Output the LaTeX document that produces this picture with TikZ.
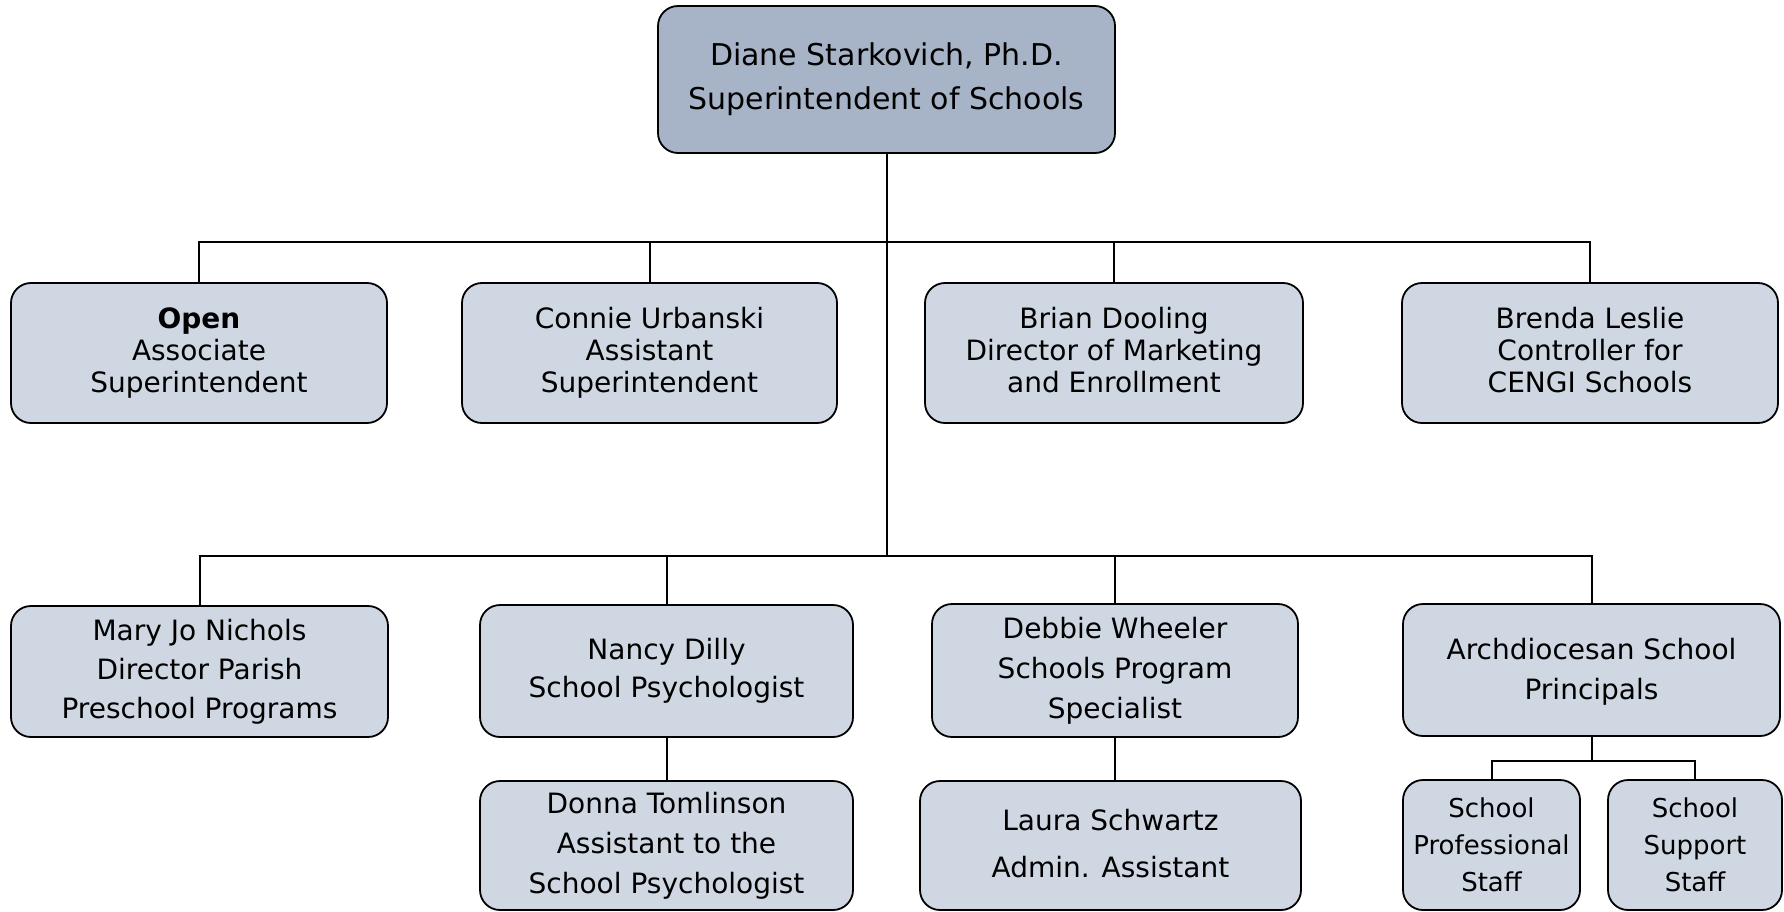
\documentclass[tikz,border=0pt]{standalone}
\usepackage{fontspec}
\setmainfont{DejaVu Sans}
\definecolor{topfill}{HTML}{A7B4C8}
\definecolor{boxfill}{HTML}{CFD8E2}
\tikzset{
  orgbox/.style={draw=black, line width=1.8pt, fill=boxfill, rounded corners=20pt,
    align=center, inner sep=0pt, text=black},
  link/.style={draw=black, line width=2pt},
}
\begin{document}
\begin{tikzpicture}[x=1pt,y=-1pt]
\useasboundingbox (0,0) rectangle (1784,912);
% top
\node[orgbox, fill=topfill, minimum width=457pt, minimum height=147pt,
  font=\fontsize{30}{44}\selectfont] (top) at (886.5,79.5)
  {Diane Starkovich, Ph.D.\\Superintendent of Schools};
% row 2
\node[orgbox, minimum width=376pt, minimum height=140pt, font=\fontsize{28}{32}\selectfont] (open) at (199,353)
  {\textbf{Open}\\Associate\\Superintendent};
\node[orgbox, minimum width=375pt, minimum height=140pt, font=\fontsize{28}{32}\selectfont] (connie) at (649.5,353)
  {Connie Urbanski\\Assistant\\Superintendent};
\node[orgbox, minimum width=378pt, minimum height=140pt, font=\fontsize{28}{32}\selectfont] (brian) at (1114,353)
  {Brian Dooling\\Director of Marketing\\and Enrollment\rule[-6pt]{0pt}{1pt}};
\node[orgbox, minimum width=376pt, minimum height=140pt, font=\fontsize{28}{32}\selectfont] (brenda) at (1590,353)
  {Brenda Leslie\\Controller for\\CENGI Schools\rule[-6pt]{0pt}{1pt}};
% row 3
\node[orgbox, minimum width=377pt, minimum height=131pt, font=\fontsize{28}{39}\selectfont] (maryjo) at (199.5,671.5)
  {Mary Jo Nichols\\Director Parish\\Preschool Programs};
\node[orgbox, minimum width=373pt, minimum height=132pt, font=\fontsize{28}{38}\selectfont] (nancy) at (666.5,671)
  {Nancy Dilly\\School Psychologist};
\node[orgbox, minimum width=366pt, minimum height=133pt, font=\fontsize{28}{40}\selectfont] (debbie) at (1115,670.5)
  {Debbie Wheeler\\Schools Program\\Specialist};
\node[orgbox, minimum width=377pt, minimum height=132pt, font=\fontsize{28}{40}\selectfont] (arch) at (1591.5,670)
  {\rule{0pt}{24pt}Archdiocesan School\\Principals};
% row 4
\node[orgbox, minimum width=373pt, minimum height=129pt, font=\fontsize{28}{40}\selectfont] (donna) at (666.5,845.5)
  {Donna Tomlinson\\Assistant to the\\School Psychologist};
\node[orgbox, minimum width=381pt, minimum height=129pt, font=\fontsize{28}{47}\selectfont] (laura) at (1110.5,845.5)
  {Laura Schwartz\\Admin. Assistant\rule[-4pt]{0pt}{1pt}};
\node[orgbox, minimum width=177pt, minimum height=130pt, font=\fontsize{26}{37}\selectfont] (prof) at (1491.5,845)
  {School\\Professional\\Staff};
\node[orgbox, minimum width=174pt, minimum height=130pt, font=\fontsize{26}{37}\selectfont] (supp) at (1695,845)
  {School\\Support\\Staff};
% junctions
\coordinate (j1) at (top.south |- 0,242);
\coordinate (j2) at (top.south |- 0,556);
\coordinate (j3) at (arch.south |- 0,761);
% connectors
\draw[link] (top.south) -- (j2);
\draw[link] (open.north) |- (j1) -| (brenda.north);
\draw[link] (connie.north) |- (j1);
\draw[link] (brian.north) |- (j1);
\draw[link] (maryjo.north) |- (j2) -| (arch.north);
\draw[link] (nancy.north) |- (j2);
\draw[link] (debbie.north) |- (j2);
\draw[link] (nancy.south) -- (donna.north -| nancy.south);
\draw[link] (debbie.south) -- (laura.north -| debbie.south);
\draw[link] (arch.south) -- (j3);
\draw[link] (prof.north) |- (j3) -| (supp.north);
\end{tikzpicture}
\end{document}
